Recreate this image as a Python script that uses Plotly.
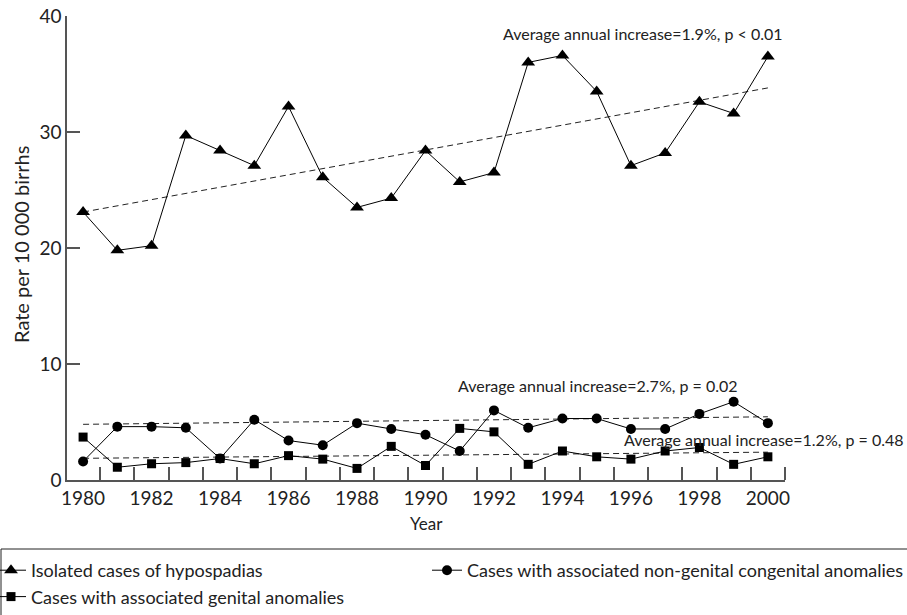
import plotly.graph_objects as go

years = list(range(1980, 2001))
isolated = [23.1, 19.8, 20.2, 29.7, 28.4, 27.1, 32.2, 26.1, 23.5, 24.3, 28.4,
            25.7, 26.5, 36.0, 36.6, 33.5, 27.1, 28.2, 32.6, 31.6, 36.5]
non_genital = [1.6, 4.6, 4.6, 4.5, 1.85, 5.2, 3.4, 3.0, 4.9, 4.4, 3.9,
               2.5, 6.0, 4.5, 5.3, 5.3, 4.4, 4.4, 5.7, 6.75, 4.9]
genital = [3.7, 1.1, 1.4, 1.5, 1.85, 1.4, 2.1, 1.8, 1.0, 2.9, 1.25,
           4.45, 4.15, 1.35, 2.5, 2.0, 1.8, 2.5, 2.8, 1.35, 2.0]

trend_years = [1980, 2000]
trend_isolated = [23.1, 33.8]
trend_non_genital = [4.8, 5.45]
trend_genital = [1.87, 2.4]

names = ["Isolated cases of hypospadias",
         "Cases with associated non-genital congenital anomalies",
         "Cases with associated genital anomalies"]
labels_trend = ["Average annual increase=1.9%, p < 0.01",
                "Average annual increase=2.7%, p = 0.02",
                "Average annual increase=1.2%, p = 0.48"]
x_ticks = list(range(1980, 2001, 2))
y_ticks = [0, 10, 20, 30, 40]

FONT = "Lato"
TXT = "#222222"
AX = "#555555"

fig = go.Figure()
for tv in (trend_isolated, trend_non_genital, trend_genital):
    fig.add_trace(go.Scatter(x=trend_years, y=tv, mode="lines",
                             line=dict(color="#222222", width=1, dash="6px,4px"),
                             showlegend=False, hoverinfo="skip"))

fig.add_trace(go.Scatter(x=years, y=isolated, mode="lines+markers", name=names[0],
                         legend="legend",
                         line=dict(color="black", width=1),
                         marker=dict(symbol="triangle-up", size=12, color="black")))
fig.add_trace(go.Scatter(x=years, y=non_genital, mode="lines+markers", name=names[1],
                         legend="legend2",
                         line=dict(color="black", width=1),
                         marker=dict(symbol="circle", size=10, color="black")))
fig.add_trace(go.Scatter(x=years, y=genital, mode="lines+markers", name=names[2],
                         legend="legend",
                         line=dict(color="black", width=1),
                         marker=dict(symbol="square", size=9, color="black")))

W, H = 907, 615
ml, mr, mt, mb = 67, 122, 16, 135
pw = W - ml - mr
ph = H - mt - mb

def px_x(px):
    return (px - ml) / pw

def px_y(py):
    return (H - mb - py) / ph

ann_font = dict(size=16, color=TXT, family=FONT)
fig.add_annotation(x=1996.35, y=38.5, xref="x", yref="y", text=labels_trend[0],
                   showarrow=False, font=ann_font, xanchor="center", yanchor="middle")
fig.add_annotation(x=1995.04, y=8.19, xref="x", yref="y", text=labels_trend[1],
                   showarrow=False, font=ann_font, xanchor="center", yanchor="middle")
fig.add_annotation(x=1999.9, y=3.53, xref="x", yref="y", text=labels_trend[2],
                   showarrow=False, font=ann_font, xanchor="center", yanchor="middle")

fig.add_annotation(x=px_x(21), y=px_y(245), xref="paper", yref="paper",
                   text="Rate per 10 000 birrhs", textangle=-90, showarrow=False,
                   xanchor="center", yanchor="middle",
                   font=dict(size=20, color=TXT, family=FONT))
fig.add_annotation(x=0.5, y=px_y(523), xref="paper", yref="paper",
                   text="Year", showarrow=False, xanchor="center", yanchor="middle",
                   font=dict(size=17, color=TXT, family=FONT))

fig.add_shape(type="rect", xref="paper", yref="paper",
              x0=px_x(1), x1=px_x(960), y0=px_y(680), y1=px_y(549),
              line=dict(color="#222222", width=1), fillcolor="rgba(0,0,0,0)")

leg_common = dict(orientation="v", yanchor="top", xanchor="left",
                  font=dict(size=18, color=TXT, family=FONT),
                  bgcolor="rgba(0,0,0,0)", borderwidth=0, itemwidth=30,
                  tracegroupgap=0)

fig.update_layout(
    width=W, height=H,
    margin=dict(l=ml, r=mr, t=mt, b=mb, pad=0, autoexpand=False),
    paper_bgcolor="white", plot_bgcolor="white",
    font=dict(family=FONT, color=TXT),
    legend=dict(x=px_x(-9), y=px_y(552), **leg_common),
    legend2=dict(x=px_x(427), y=px_y(552), **leg_common),
    xaxis=dict(range=[1979.53, 2000.5], showgrid=False, zeroline=False,
               showline=True, linecolor=AX, linewidth=1.5,
               tickvals=x_ticks, ticks="", tickfont=dict(size=19, color=TXT, family=FONT),
               minor=dict(ticks="inside", tick0=1980.5, dtick=1, ticklen=13,
                          tickcolor=AX, tickwidth=1.5, showgrid=False)),
    yaxis=dict(range=[0, 40], showgrid=False, zeroline=False,
               showline=True, linecolor=AX, linewidth=1.5, ticklabeloverflow="allow",
               tickvals=y_ticks, ticks="inside", ticklen=13, tickcolor=AX, tickwidth=1.5,
               tickfont=dict(size=19, color=TXT, family=FONT)),
)

fig.write_html("out.html", config={"displayModeBar": False},
               post_script="document.body.style.margin='0';")
